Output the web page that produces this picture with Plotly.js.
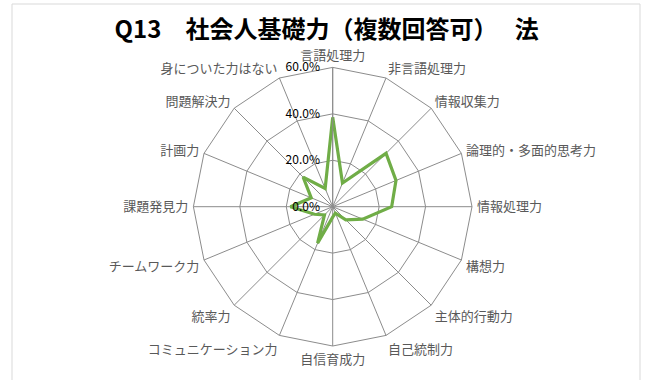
<!DOCTYPE html>
<html>
<head>
<meta charset="utf-8">
<script src="https://cdn.plot.ly/plotly-3.0.1.min.js"></script>
<style>
  body { margin: 0; background: #ffffff; }
  #chart { width: 647px; height: 380px; }
</style>
</head>
<body>
<div id="chart"></div>
<script>
// categories around the radar, clockwise from the top
let skills = [
    "言語処理力", "非言語処理力", "情報収集力", "論理的・多面的思考力",
    "情報処理力", "構想力", "主体的行動力", "自己統制力",
    "自信育成力", "コミュニケーション力", "統率力", "チームワーク力",
    "課題発見力", "計画力", "問題解決力", "身についた力はない"
];

// share of answers in percent
let shares = [38.5, 11, 32.5, 29.5, 25.4, 14, 8, 3, 4.5, 17, 5, 8.5, 18.2, 10, 18, 8.5];

// radial tick values
let radialTicks = [0, 20, 40, 60];

// close the polygon by repeating the first point
let theta = skills.concat([skills[0]]);
let r = shares.concat([shares[0]]);

let trace = {
    type: "scatterpolar",
    r: r,
    theta: theta,
    mode: "lines",
    line: { color: "#70ad47", width: 3.2 },
    hoverinfo: "skip"
};

let W = 647, H = 380;
let cx = 332.7, cy = 206.7, rad = 139.3;

let layout = {
    width: W,
    height: H,
    margin: { l: 0, r: 0, t: 0, b: 0 },
    paper_bgcolor: "#ffffff",
    showlegend: false,
    font: { family: "Noto Sans CJK JP, sans-serif", color: "#595959", size: 12 },
    title: {
        text: "Q13　社会人基礎力（複数回答可）　 法",
        font: { family: "Noto Sans CJK JP, sans-serif", size: 24, color: "#000000", weight: "bold" },
        x: 0.505,
        xanchor: "center",
        y: 1 - 30 / H,
        yanchor: "middle"
    },
    polar: {
        domain: {
            x: [(cx - rad) / W, (cx + rad) / W],
            y: [(H - cy - rad) / H, (H - cy + rad) / H]
        },
        bgcolor: "rgba(0,0,0,0)",
        gridshape: "linear",
        angularaxis: {
            rotation: 90,
            direction: "clockwise",
            showline: true,
            linecolor: "#8c8c8c",
            linewidth: 1,
            gridcolor: "#8c8c8c",
            gridwidth: 1,
            // invisible ticks just push the category labels out a little
            ticks: "outside",
            ticklen: 2,
            tickcolor: "rgba(0,0,0,0)",
            tickfont: { size: 13, color: "#595959" }
        },
        radialaxis: {
            range: [0, 60],
            tickvals: radialTicks,
            // trailing no-break spaces keep the labels off the axis line
            ticktext: radialTicks.map(v => v.toFixed(1) + "%\u00a0\u00a0\u00a0"),
            angle: 90,
            tickangle: 90,
            side: "counterclockwise",
            showline: true,
            linecolor: "#8c8c8c",
            gridcolor: "#8c8c8c",
            gridwidth: 1,
            ticks: "",
            tickfont: { size: 12, color: "#000000" }
        }
    },
    shapes: [
        {
            type: "rect",
            xref: "paper", yref: "paper",
            x0: 12 / W, x1: 640 / W,
            y0: -0.05, y1: 1 - 4 / H,
            line: { color: "#d9d9d9", width: 1 },
            layer: "below"
        }
    ]
};

Plotly.newPlot("chart", [trace], layout, { displayModeBar: false, staticPlot: true });
</script>
</body>
</html>
